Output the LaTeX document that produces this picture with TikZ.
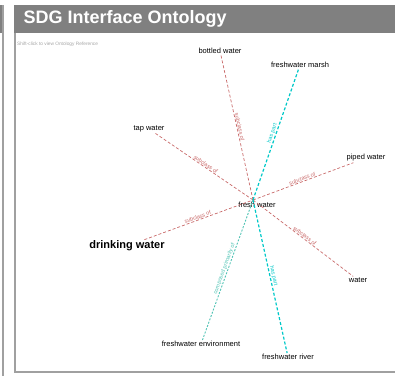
\documentclass[tikz,border=0pt]{standalone}
\usepackage{fontspec}
\setmainfont{Liberation Sans}
\definecolor{isared}{RGB}{200,105,105}
\definecolor{partcyan}{RGB}{0,200,200}
\definecolor{envcyan}{RGB}{80,195,180}
\definecolor{bargray}{RGB}{128,128,128}
\definecolor{framegray}{RGB}{160,160,160}
\tikzset{
  term/.style={inner sep=1pt, font=\fontsize{7.5}{8}\selectfont, text=black},
  mainterm/.style={inner sep=1pt, font=\fontsize{11}{12}\selectfont\bfseries, text=black},
  isaedge/.style={isared, line width=0.7pt, dash pattern=on 3pt off 2pt},
  partedge/.style={partcyan, line width=1.2pt, dash pattern=on 3pt off 2pt},
  envedge/.style={envcyan, line width=0.9pt, dash pattern=on 2pt off 1.5pt},
  rel/.style={midway, sloped, above, inner sep=0.5pt, font=\fontsize{5.5}{6}\selectfont}
}
\begin{document}
\begin{tikzpicture}[x=1pt,y=-1pt]
\useasboundingbox (0,0) rectangle (395,376);

% side panel
\fill [bargray] (0,5) rectangle (4,33);
\draw [framegray, line width=1.2pt] (3,5) -- (3,376);

% main panel
\draw [framegray, line width=1.2pt] (15,5) -- (15,372) -- (395,372);
\fill [bargray] (14,5) rectangle (395,33);
\node [anchor=west, text=white, font=\fontsize{18}{19}\selectfont\bfseries] (title) at (20,19) {SDG Interface Ontology};
\node [anchor=west, text=black!35, inner sep=0pt, font=\fontsize{4.8}{5}\selectfont] (hint) at (17,44) {Shift-click to view Ontology Reference};

% terms
\coordinate (fwc) at (253,200);
\node [term] (fw) at (257,205) {fresh water};
\node [term] (bottled) at (220,51) {bottled water};
\node [term] (marsh) at (300,65) {freshwater marsh};
\node [term] (tap) at (149,129) {tap water};
\node [term] (piped) at (366,158) {piped water};
\node [mainterm] (drink) at (127,246) {drinking water};
\node [term] (water) at (358,280) {water};
\node [term] (env) at (201,344) {freshwater environment};
\node [term] (river) at (288,357) {freshwater river};

% relations
\draw [isaedge] (fwc) -- node [rel] {subclass of} (bottled);
\draw [isaedge] (tap) -- node [rel] {subclass of} (fwc);
\draw [isaedge] (fwc) -- node [rel] {subclass of} (piped);
\draw [isaedge] (drink) -- node [rel] {subclass of} (fwc);
\draw [isaedge] (fwc) -- node [rel] {subclass of} (water);
\draw [partedge] (fwc) -- node [rel] {has part} (marsh);
\draw [partedge] (fwc) -- node [rel] {has part} (river);
\draw [envedge] (env) -- node [rel] {composed primarily of} (fwc);
\end{tikzpicture}
\end{document}
